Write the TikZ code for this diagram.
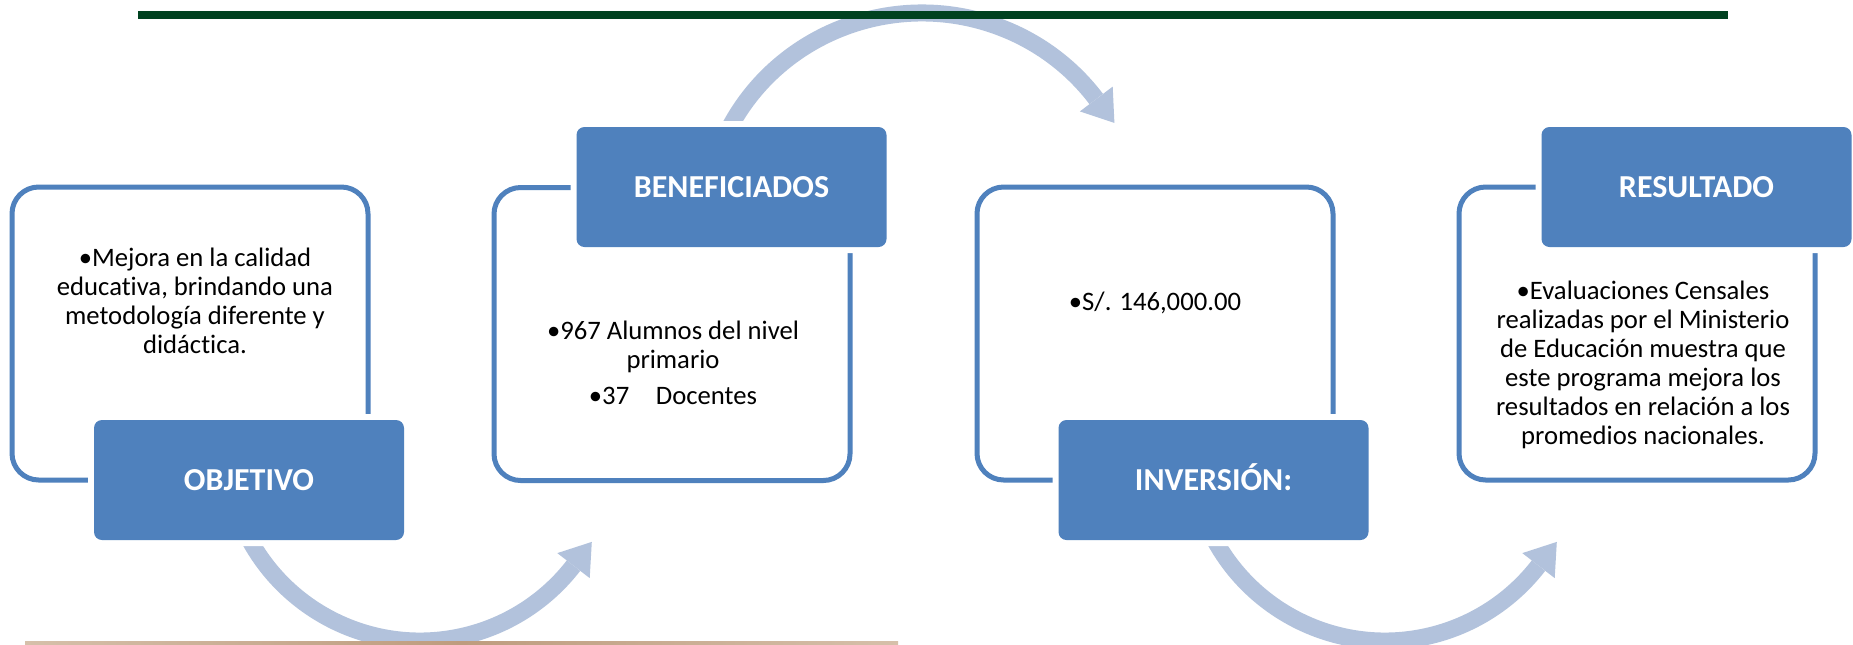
\documentclass[tikz,border=0pt]{standalone}
\usepackage{fontspec}
\setmainfont{Carlito}[Ligatures=NoCommon]
\definecolor{boxblue}{RGB}{79,129,189}
\definecolor{arrowc}{RGB}{178,194,220}
\definecolor{dgreen}{RGB}{0,66,32}
\definecolor{tanL}{RGB}{214,192,170}
\definecolor{tanD}{RGB}{190,156,126}
\begin{document}
\begin{tikzpicture}[x=0.75pt,y=-0.75pt,
  outline/.style={draw=boxblue, line width=3.75pt, rounded corners=20pt,
    minimum width=267pt, minimum height=219.75pt, inner sep=0pt},
  labelbox/.style={fill=boxblue, rounded corners=6pt,
    preaction={draw=white, line width=9pt},
    minimum width=232.5pt, minimum height=90pt, inner sep=0pt, text=white,
    font=\fontsize{24}{28}\selectfont\bfseries, text height=15.5pt, text depth=0pt},
  bodytext/.style={font=\fontsize{20}{21.8}\selectfont, align=center, inner sep=0pt},
  arrowbody/.style={draw=arrowc, line width=12.75pt},
  arrowhead/.style={fill=arrowc}]
\useasboundingbox (0,0) rectangle (1853,644);
\clip (0,0) rectangle (1853,644);
\fill[white] (0,0) rectangle (1853,644);

% circular arrows
\draw[arrowbody] (420,447) ++(165:194) arc[start angle=165, end angle=37.7, radius=194];
\fill[arrowhead] (589.7,578.1) -- (591.8,541.9) -- (557.3,553.1) -- cycle;

\draw[arrowbody] (922,226) ++(-157:217 and 213) arc[start angle=-157, end angle=-36.6, x radius=217, y radius=213];
\fill[arrowhead] (1112.7,86.6) -- (1114.4,122.9) -- (1079.9,111.4) -- cycle;

\draw[arrowbody] (1385,447) ++(165:194) arc[start angle=165, end angle=37.7, radius=194];
\fill[arrowhead] (1554.7,578.1) -- (1556.8,541.9) -- (1522.3,553.1) -- cycle;

% rules
\fill[dgreen] (138,11) rectangle (1728,19);
\shade[left color=tanL, right color=tanL, middle color=tanD] (25,641.3) rectangle (898,645);

% content outlines
\node[outline] (c1) at (190,333.5) {};
\node[outline] (c2) at (672,334) {};
\node[outline] (c3) at (1155,333.5) {};
\node[outline] (c4) at (1637,333.5) {};

% label boxes
\node[labelbox] (l1) at (249,480) {OBJETIVO};
\node[labelbox] (l2) at (731.5,187) {BENEFICIADOS};
\node[labelbox] (l3) at (1213.5,480) {INVERSIÓN:};
\node[labelbox] (l4) at (1696.5,187) {RESULTADO};

% body texts
\node[bodytext] (t1) at (195,301) {•Mejora en la calidad\\educativa, brindando una\\metodología diferente y\\didáctica.};
\node[bodytext] (t2) at (673,363) {•967 Alumnos del nivel\\primario\\[5.5pt]•37\hspace{20pt}Docentes};
\node[bodytext, anchor=base] (t3) at (1155,310) {•S/. 146,000.00};
\node[bodytext] (t4) at (1643,365) {•Evaluaciones Censales\\realizadas por el Ministerio\\de Educación muestra que\\este programa mejora los\\resultados en relación a los\\promedios nacionales.};
\end{tikzpicture}
\end{document}
